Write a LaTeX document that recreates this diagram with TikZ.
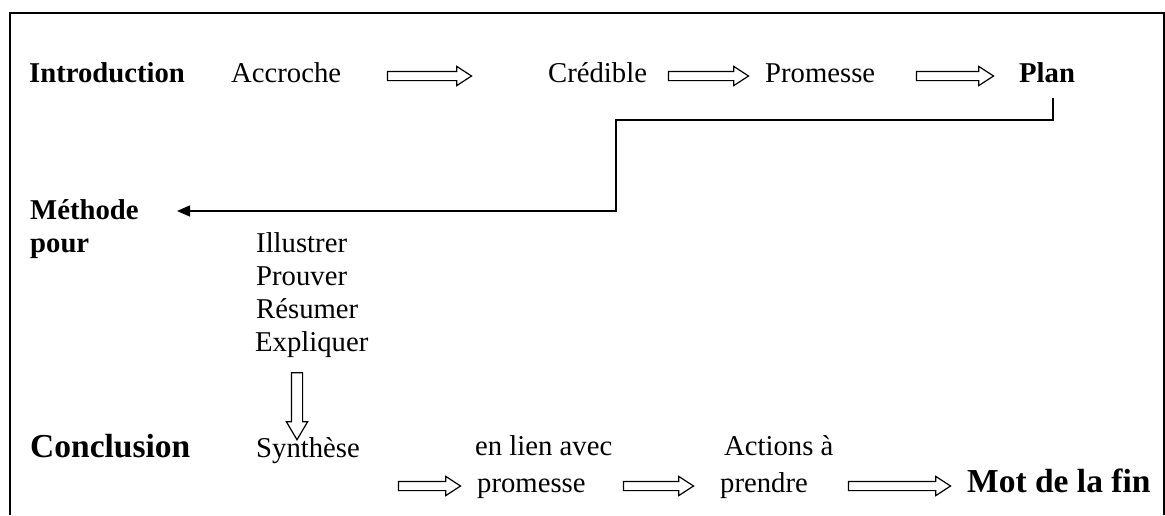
\documentclass[tikz,border=0pt]{standalone}
\usepackage{fontspec}
\setmainfont{Liberation Serif}
\usetikzlibrary{shapes.arrows,arrows.meta}
\begin{document}
\begin{tikzpicture}[x=1pt,y=-1pt,
  txt/.style={anchor=base west,inner sep=0pt,font=\fontsize{28.7}{33}\selectfont},
  btxt/.style={txt,font=\fontsize{28.7}{33}\selectfont\bfseries},
  bigb/.style={txt,font=\fontsize{33.5}{38}\selectfont\bfseries},
  harrow/.style={single arrow,draw,line width=1.2pt,inner sep=4pt,minimum width=18pt,single arrow head extend=5pt,single arrow tip angle=66,anchor=center},
  varrow/.style={single arrow,draw,line width=1.2pt,inner sep=5pt,minimum width=20pt,single arrow head extend=5pt,single arrow tip angle=61,rotate=-90,anchor=center},
  conn/.style={line width=1.5pt}]
\useasboundingbox (0,0) rectangle (1165,515);
\draw[line width=1.5pt] (10,515) -- (10,13) -- (1164,13) -- (1164,515);
% row 1
\node[btxt] (intro) at (29,82.5) {Introduction};
\node[txt] (accroche) at (231,82.5) {Accroche};
\node[harrow,minimum height=84pt] (a1) at (426,76) {};
\node[txt] (credible) at (548,82.5) {Crédible};
\node[harrow,minimum height=80pt] (a2) at (705,76) {};
\node[txt] (promesse) at (765,82.5) {Promesse};
\node[harrow,minimum height=77pt] (a3) at (951.5,76) {};
\node[btxt] (plan) at (1019,82.5) {Plan};
% connector
\coordinate (k) at (616,120);
\coordinate (tipM) at (177,211);
\draw[conn,-{Triangle[length=13pt,width=11pt]}] ([xshift=6pt,yshift=-15pt]plan.south) |- (k) |- (tipM);
% middle
\node[btxt] (methode) at (30,219) {Méthode};
\node[btxt] (pour) at (30,252) {pour};
\node[txt] (ill) at (256,252) {Illustrer};
\node[txt] (prouv) at (256,285) {Prouver};
\node[txt] (resum) at (256,318) {Résumer};
\node[txt] (expl) at (255,351) {Expliquer};
\node[varrow,minimum height=67pt] (dn) at (297,401.5) {};
% bottom
\node[bigb] (concl) at (30,457) {Conclusion};
\node[txt] (synth) at (256,457) {Synthèse};
\node[txt] (lien) at (475,455) {en lien avec};
\node[txt] (actions) at (724,455) {Actions à};
\node[harrow,minimum height=62pt] (b1) at (426,486) {};
\node[txt] (prom2) at (477,492) {promesse};
\node[harrow,minimum height=70pt] (b2) at (655,486) {};
\node[txt] (prendre) at (720,492) {prendre};
\node[harrow,minimum height=102pt] (b3) at (896,486) {};
\node[bigb] (mot) at (967,492) {Mot de la fin};
\end{tikzpicture}
\end{document}
